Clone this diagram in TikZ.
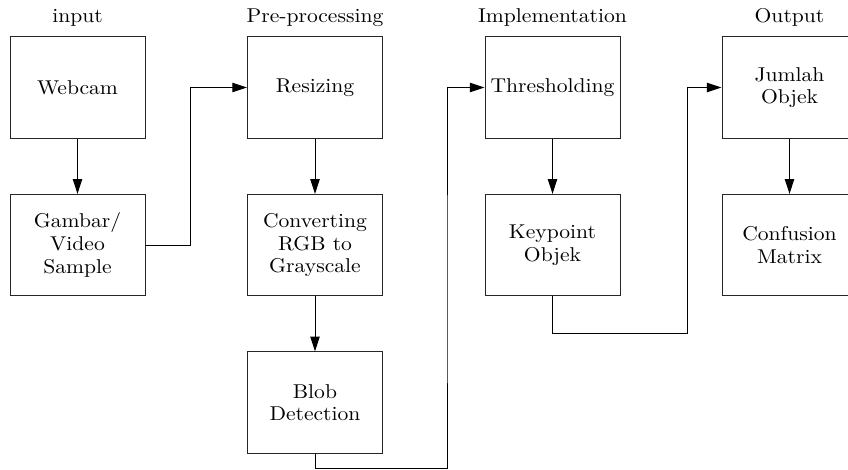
\documentclass[tikz,border=0pt]{standalone}
\usepackage{fontspec}
\setmainfont{lmroman10-regular.otf}[FakeStretch=1.08]
\usetikzlibrary{arrows.meta}
\begin{document}
\begin{tikzpicture}[x=0.75pt,y=-0.75pt,
  box/.style={draw=black!85, line width=0.7pt, minimum width=101.25pt, minimum height=76pt,
    inner sep=0pt, align=center, font=\fontsize{15}{17}\selectfont},
  head/.style={anchor=base, font=\fontsize{15}{17}\selectfont},
  conn/.style={draw=black, line width=0.75pt, -{Triangle[length=11pt,width=7pt]}}]
\useasboundingbox (0,0) rectangle (848,470);
\clip (0,0) rectangle (848,470);
% headers
\node[head] (h1) at (77.5,23) {input};
\node[head] (h2) at (315,23) {Pre-processing};
\node[head] (h3) at (552.5,23) {Implementation};
\node[head] (h4) at (789.5,23) {Output};
% boxes
\node[box] (web) at (77.5,87.5) {Webcam};
\node[box] (gam) at (77.5,245) {Gambar/\\Video\\Sample};
\node[box] (res) at (315,87.5) {Resizing};
\node[box] (con) at (315,245) {Converting\\RGB to\\Grayscale};
\node[box] (blob) at (315,402.5) {Blob\\Detection};
\node[box] (thr) at (552.5,87.5) {Thresholding};
\node[box] (key) at (552.5,245) {Keypoint\\Objek};
\node[box] (jum) at (789.5,87.5) {Jumlah\\Objek};
\node[box] (conf) at (789.5,245) {Confusion\\Matrix};
% connectors
\draw[conn] (web) -- (gam);
\draw[conn] (gam.east) -- ++(45,0) |- (res.west);
\draw[conn] (res) -- (con);
\draw[conn] (con) -- (blob);
\draw[conn] (blob.south) -- ++(0,15) -| (447,300) |- (thr.west);
\draw[conn] (thr) -- (key);
\draw[conn] (key.south) -- ++(0,37) -| (687,200) |- (jum.west);
\draw[conn] (jum) -- (conf);
\end{tikzpicture}
\end{document}
